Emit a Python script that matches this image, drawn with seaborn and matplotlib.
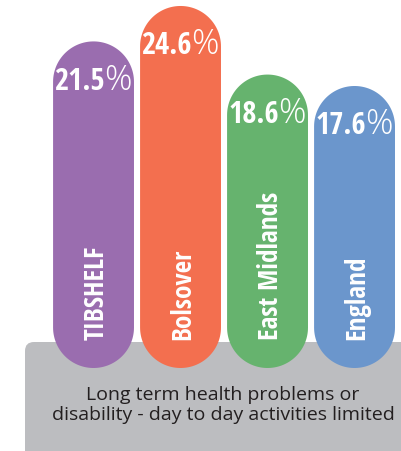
"""Long term health problems chart — rounded pill bars on a grey caption panel."""
import matplotlib
matplotlib.use("Agg")
import matplotlib.pyplot as plt
from matplotlib import font_manager as fm
from matplotlib.patches import FancyBboxPatch, Polygon
from matplotlib.transforms import IdentityTransform
import numpy as np
import seaborn as sns

# ── data ──────────────────────────────────────────────────────────────────────
regions = ["TIBSHELF", "Bolsover", "East Midlands", "England"]
values = [21.5, 24.6, 18.6, 17.6]
colors = ["#9a6daf", "#f36f4f", "#66b36e", "#6b96cc"]
caption = "Long term health problems or\ndisability - day to day activities limited"

# ── fonts ─────────────────────────────────────────────────────────────────────
_names = {f.name for f in fm.fontManager.ttflist}
NARROW = next((n for n in ["Open Sans Condensed", "Roboto Condensed",
                           "Liberation Sans Narrow"] if n in _names), "DejaVu Sans")
PCT_FONT, PCT_WEIGHT = next(
    ((n, w) for n, w in [("Open Sans Condensed Light", "light"),
                         ("Liberation Sans Narrow", "normal"),
                         ("Open Sans", "light")] if n in _names),
    ("DejaVu Sans", "normal"))
BODY = next((n for n in ["Open Sans", "Liberation Sans"] if n in _names), "DejaVu Sans")

sns.set_theme(style="white")
plt.rcParams["font.family"] = [NARROW, "DejaVu Sans"]

W, H = 401, 452
fig = plt.figure(figsize=(W / 100, H / 100), dpi=100)
ax = fig.add_axes([0, 0, 1, 1])

sns.barplot(x=regions, y=values, hue=regions, palette=colors, legend=False,
            width=0.93, saturation=1, ax=ax)
ax.set_xlim(-1.075, 3.534)
ax.set_ylim(-14.33, 25.21)
ax.axis("off")

bars = sorted(ax.patches[:], key=lambda p: p.get_x())

# grey caption panel (pixel coords, runs off the right/bottom edge)
panel = FancyBboxPatch((25, -30), 420, H - 343 + 30,
                       boxstyle="round,pad=0,rounding_size=9",
                       transform=IdentityTransform(), facecolor="#bcbdc0",
                       edgecolor="none", zorder=0)
ax.add_patch(panel)


def pill(x0, x1, y0, y1, n=60):
    """Stadium outline in pixel coords: semicircular top and bottom."""
    r = (x1 - x0) / 2
    cx = x0 + r
    t_top = np.linspace(0, np.pi, n)
    t_bot = np.linspace(np.pi, 2 * np.pi, n)
    top = np.column_stack([cx + r * np.cos(t_top), y1 - r + r * np.sin(t_top)])
    bot = np.column_stack([cx + r * np.cos(t_bot), y0 + r + r * np.sin(t_bot)])
    return np.vstack([top, bot])


# turn seaborn rectangles into pill shapes reaching down onto the panel
FLOOR_PX = 83
for bar in bars:
    x0, _ = ax.transData.transform((bar.get_x(), 0))
    x1, top = ax.transData.transform((bar.get_x() + bar.get_width(),
                                      bar.get_height()))
    shape = Polygon(pill(x0, x1, FLOOR_PX, top), closed=True,
                    transform=IdentityTransform(),
                    facecolor=bar.get_facecolor(), edgecolor="none", zorder=2)
    bar.set_visible(False)
    ax.add_patch(shape)

# value labels: bold number + light percent sign
BASE = -47.5
pairs = []
for i, v in enumerate(values):
    a1 = ax.annotate(f"{v:.1f}", xy=(i, v), xytext=(0, BASE),
                     textcoords="offset pixels", ha="right", va="baseline",
                     color="white", fontsize=22, fontweight="bold", zorder=3)
    a2 = ax.annotate("%", xy=(i, v), xytext=(0, BASE),
                     textcoords="offset pixels", ha="left", va="baseline",
                     color="white", fontsize=24.5, fontweight=PCT_WEIGHT,
                     family=[PCT_FONT, "DejaVu Sans"], zorder=3)
    pairs.append((a1, a2))

fig.canvas.draw()
r = fig.canvas.get_renderer()
for a1, a2 in pairs:
    w1 = a1.get_window_extent(r).width
    w2 = a2.get_window_extent(r).width
    split = -(w1 + w2) / 2 + w1
    a1.xyann = (split, BASE)
    a2.xyann = (split - 1, BASE)

# rotated category labels
for i, name in enumerate(regions):
    ax.annotate(name, xy=(i, (H - 340) / H), xycoords=("data", "axes fraction"),
                xytext=(10, 0), textcoords="offset pixels", rotation=90,
                rotation_mode="anchor", ha="left", va="baseline",
                color="white", fontsize=19.5, fontweight="bold", zorder=3)

ax.text(223 / W, 1 - 405 / H, caption, transform=ax.transAxes,
        ha="center", va="center", fontsize=14, family=[BODY, "DejaVu Sans"],
        color="#231f20", linespacing=1.2, zorder=3)

fig.savefig("out.png", dpi=100)
